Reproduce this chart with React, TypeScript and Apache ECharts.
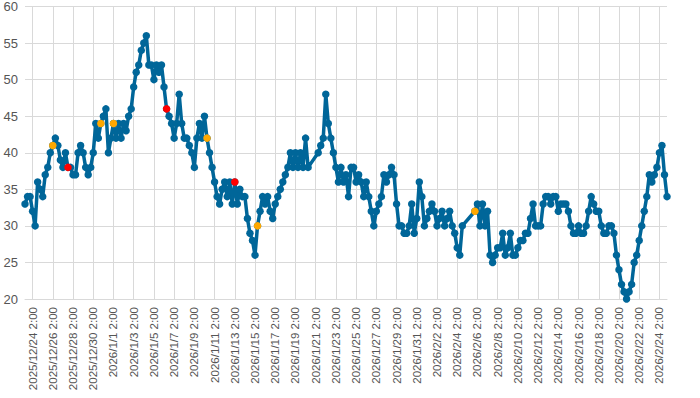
import React, { useEffect, useRef } from "react";
import * as echarts from "echarts";

// 6-hourly readings starting 2025/12/23 8:00
const startTime = "2025/12/23 8:00";
const stepHours = 6;

const values: (number | null)[] = [
  33, 34, 34, 32, 30, 36, 35, 34, 37, 38,
  40, 41, 42, 41, 39, 38, 40, 38, 38, 37,
  37, 40, 41, 40, 38, 37, 38, 40, 44, 42,
  44, 45, 46, 40, 42, 44, 42, 44, 42, 44,
  43, 45, 46, 49, 51, 52, 54, 55, 56, 52,
  52, 50, 52, 51, 52, 49, 46, 45, 44, 42,
  44, 48, 44, 42, 42, 41, 40, 38, 42, 44,
  42, 45, 42, 40, 38, 36, 34, 33, 35, 36,
  34, 36, 33, 36, 33, 35, 34, 34, 31, 29,
  28, 26, 30, 32, 34, 33, 34, 32, 31, 33,
  34, 35, 36, 37, 38, 40, 38, 40, 38, 40,
  38, 42, 38, null, null, null, 40, 41, 42, 48,
  44, 42, 40, 38, 36, 38, 36, 37, 34, 38,
  38, 36, 37, 36, 34, 36, 34, 32, 30, 32,
  33, 34, 37, 36, 37, 38, 37, 33, 30, 30,
  29, 29, 30, 33, 29, 31, 36, 34, 30, 31,
  32, 33, 32, 30, 31, 32, 30, 31, 32, 30,
  29, 27, 26, 30, null, null, null, null, 32, 33,
  30, 33, 30, 32, 26, 25, 26, 27, 27, 29,
  26, 27, 29, 26, 26, 27, 28, 28, 29, 29,
  31, 33, 30, 30, 30, 33, 34, 34, 33, 34,
  34, 32, 33, 33, 33, 32, 30, 29, 29, 30,
  29, 29, 30, 32, 34, 33, 32, 32, 30, 29,
  29, 30, 30, 29, 26, 24, 22, 21, 20, 21,
  22, 25, 26, 28, 30, 32, 34, 37, 36, 37,
  38, 40, 41, 37, 34,
];

const orangeIdx = [11, 30, 35, 72, 92, 178];
const redIdx = [17, 56, 83];

const yMin = 20;
const yMax = 60;
const yStep = 5;

function buildCategories(n: number): string[] {
  const [d, t] = startTime.split(" ");
  const [y, m, day] = d.split("/").map(Number);
  const h = Number(t.split(":")[0]);
  const base = Date.UTC(y, m - 1, day, h);
  const out: string[] = [];
  for (let i = 0; i < n; i++) {
    const dt = new Date(base + i * stepHours * 3600 * 1000);
    out.push(
      `${dt.getUTCFullYear()}/${dt.getUTCMonth() + 1}/${dt.getUTCDate()} ${dt.getUTCHours()}:00`
    );
  }
  return out;
}

export default function App() {
  const ref = useRef<HTMLDivElement>(null);
  useEffect(() => {
    if (!ref.current) return;
    const chart = echarts.init(ref.current, undefined, { renderer: "svg" });
    const categories = buildCategories(values.length);
    const labelAt = (index: number) => index % 8 === 3;
    const highlight = values.map((v, i) => {
      if (orangeIdx.includes(i)) return { value: v, itemStyle: { color: "#ffa800" } };
      if (redIdx.includes(i)) return { value: v, itemStyle: { color: "#ff0000" } };
      return null;
    });
    const fontFamily = "'Liberation Sans', Arial, sans-serif";
    chart.setOption({
      animation: false,
      textStyle: { fontFamily },
      grid: { left: 25, right: 33, top: 5, bottom: 99, containLabel: false },
      xAxis: {
        type: "category",
        data: categories,
        boundaryGap: false,
        axisLine: { show: true, lineStyle: { color: "#d9d9d9", width: 1 } },
        axisTick: { show: false },
        axisLabel: {
          interval: labelAt,
          rotate: 90,
          color: "#555",
          fontSize: 11.5,
          margin: 8,
          fontFamily,
        },
        splitLine: {
          show: true,
          interval: labelAt,
          lineStyle: { color: "#d9d9d9", width: 1 },
        },
      },
      yAxis: {
        type: "value",
        min: yMin,
        max: yMax,
        interval: yStep,
        axisLine: { show: false },
        axisTick: { show: false },
        axisLabel: { color: "#555", fontSize: 13, margin: 7, fontFamily },
        splitLine: { show: true, lineStyle: { color: "#d9d9d9", width: 1 } },
      },
      series: [
        {
          type: "line",
          data: values,
          connectNulls: true,
          showAllSymbol: true,
          symbol: "circle",
          symbolSize: 7.5,
          lineStyle: { color: "#006699", width: 3.5 },
          itemStyle: { color: "#006699" },
        },
        {
          type: "line",
          data: highlight,
          connectNulls: false,
          showAllSymbol: true,
          symbol: "circle",
          symbolSize: 7.5,
          lineStyle: { width: 0, opacity: 0 },
          itemStyle: { color: "#ffa800" },
          z: 5,
        },
      ],
    });
    return () => chart.dispose();
  }, []);
  return (
    <div
      ref={ref}
      style={{ position: "absolute", left: 0, top: 0, width: 700, height: 398 }}
    />
  );
}
